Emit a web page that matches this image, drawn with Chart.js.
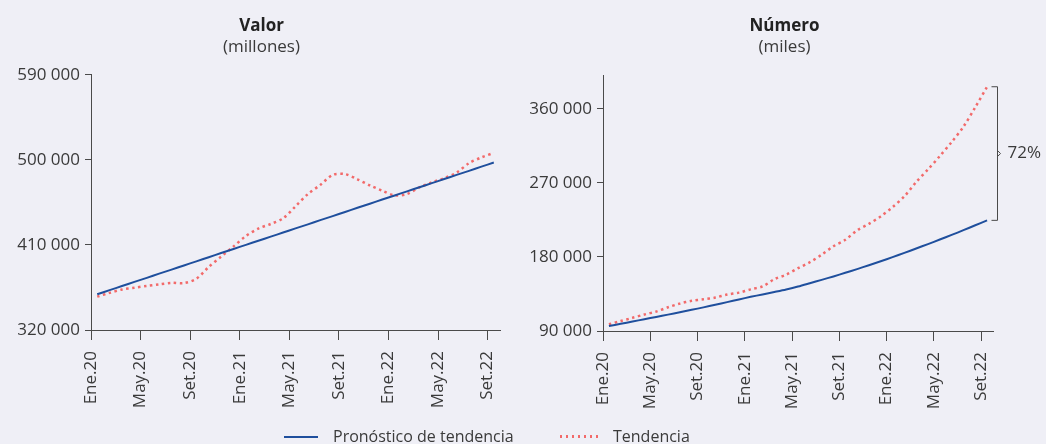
<!DOCTYPE html>
<html>
<head>
<meta charset="utf-8">
<script src="https://cdn.jsdelivr.net/npm/chart.js@4"></script>
<style>
  html, body { margin: 0; padding: 0; background: #efeff6; }
  body { width: 1046px; height: 444px; position: relative; overflow: hidden; font-family: "Open Sans", sans-serif; color: #3a3a3a; }
  canvas { position: absolute; top: 0; }
  #valor { left: 0; }
  #numero { left: 523px; }
  .item { position: absolute; top: 425px; font-size: 16px; line-height: 22px; white-space: nowrap; }
  .sw { display: inline-block; vertical-align: middle; margin-right: 15px; position: relative; top: -1px; }
  .solid { width: 34px; height: 2px; background: #1f4f9d; }
  .dots { width: 38px; height: 3px; background: repeating-linear-gradient(90deg, #f26a6a 0 2.5px, transparent 2.5px 6px); }
</style>
</head>
<body>
<canvas id="valor" width="523" height="444"></canvas>
<canvas id="numero" width="523" height="444"></canvas>
<span class="item" style="left:284px"><span class="sw solid"></span>Pronóstico de tendencia</span>
<span class="item" style="left:560px"><span class="sw dots"></span>Tendencia</span>

<script>
// months, Ene.20 .. Set.22
const months = [
  'Ene.20', 'Feb.20', 'Mar.20', 'Abr.20', 'May.20', 'Jun.20', 'Jul.20', 'Ago.20', 'Set.20', 'Oct.20', 'Nov.20', 'Dic.20',
  'Ene.21', 'Feb.21', 'Mar.21', 'Abr.21', 'May.21', 'Jun.21', 'Jul.21', 'Ago.21', 'Set.21', 'Oct.21', 'Nov.21', 'Dic.21',
  'Ene.22', 'Feb.22', 'Mar.22', 'Abr.22', 'May.22', 'Jun.22', 'Jul.22', 'Ago.22', 'Set.22'
];
const xTickLabels = ['Ene.20', 'May.20', 'Set.20', 'Ene.21', 'May.21', 'Set.21', 'Ene.22', 'May.22', 'Set.22'];

// Valor (millones)
const valorPronostico = [
  357800, 362200, 366500, 370900, 375200, 379600, 383900, 388300, 392600, 397000, 401400, 405700,
  410100, 414400, 418800, 423100, 427500, 431800, 436200, 440500, 444900, 449300, 453600, 458000,
  462300, 466700, 471000, 475400, 479700, 484100, 488400, 492800, 497200
];
const valorTendencia = [
  355300, 359300, 362800, 364700, 366600, 368300, 369900, 369600, 374200, 386700, 397700, 408400,
  419500, 427300, 432200, 438100, 450800, 463800, 473500, 484100, 484900, 479400, 473000, 467400,
  462400, 463800, 470900, 476200, 480700, 486500, 496500, 502600, 507500
];
const valorTicks = [320000, 410000, 500000, 590000];

// Número (miles)
const numeroPronostico = [
  96100, 98750, 101500, 104300, 107100, 109900, 112700, 115700, 118700, 121900, 125100, 128300,
  131500, 134400, 137400, 140500, 144000, 148000, 152100, 156300, 160700, 165200, 169900, 174700,
  179700, 184900, 190200, 195600, 201100, 206700, 212500, 218400, 224400
];
const numeroTendencia = [
  98200, 102100, 106000, 110000, 113600, 118800, 123300, 126700, 128500, 130600, 134300, 136600,
  140600, 144100, 153000, 158400, 166300, 173500, 182600, 192900, 200800, 212300, 220200, 229200,
  240400, 253500, 271000, 286200, 302500, 319500, 338200, 361800, 386700
];
const numeroTicks = [90000, 180000, 270000, 360000];

const BLUE = '#1f4f9d';
const RED = '#f26a6a';
const INK = '#3a3a3a';
const AXIS = '#4a4a4a';

Chart.defaults.font.family = '"Open Sans", sans-serif';
Chart.defaults.font.size = 17;
Chart.defaults.color = INK;

function fmt(v) {
  return String(v).replace(/\B(?=(\d{3})+(?!\d))/g, ' ');
}

// each month is drawn in the middle of its slot
function points(arr) {
  return arr.map((v, i) => ({ x: i + 0.5, y: v }));
}

// bracket with the gap between both series at the last month
const gapBracket = {
  id: 'gapBracket',
  afterDatasetsDraw(chart) {
    const low = chart.data.datasets[0].data.at(-1).y;
    const high = chart.data.datasets[1].data.at(-1).y;
    const y1 = chart.scales.y.getPixelForValue(high);
    const y2 = chart.scales.y.getPixelForValue(low);
    const x = chart.chartArea.right + 4.5;
    const m = (y1 + y2) / 2;
    const ctx = chart.ctx;
    ctx.save();
    ctx.strokeStyle = AXIS;
    ctx.lineWidth = 1;
    ctx.beginPath();
    ctx.moveTo(x - 6, y1);
    ctx.lineTo(x, y1);
    ctx.lineTo(x, y2);
    ctx.lineTo(x - 6, y2);
    ctx.moveTo(x, m - 3);
    ctx.lineTo(x + 3, m);
    ctx.lineTo(x, m + 3);
    ctx.stroke();
    ctx.fillStyle = INK;
    ctx.font = '17px "Open Sans"';
    ctx.textBaseline = 'middle';
    ctx.fillText(Math.round((high / low - 1) * 100) + '%', x + 10, m);
    ctx.restore();
  }
};

function makeChart(id, cfg) {
  return new Chart(document.getElementById(id), {
    type: 'line',
    data: {
      datasets: [
        { label: 'Pronóstico de tendencia', data: points(cfg.pronostico), borderColor: BLUE, borderWidth: 2, pointRadius: 0, tension: 0.3 },
        { label: 'Tendencia', data: points(cfg.tendencia), borderColor: RED, borderWidth: 2.5, borderDash: [2.5, 3.5], pointRadius: 0, tension: 0.3 }
      ]
    },
    plugins: cfg.plugins || [],
    options: {
      responsive: false,
      animation: false,
      layout: { padding: 0 },
      plugins: {
        legend: { display: false },
        tooltip: { enabled: false },
        title: { display: true, text: cfg.title, color: '#222', font: { size: 17, weight: 'bold' }, padding: { top: 16, bottom: 0 } },
        subtitle: { display: true, text: cfg.subtitle, font: { size: 17 }, padding: { top: 1, bottom: cfg.subGap } }
      },
      scales: {
        x: {
          type: 'linear',
          min: 0,
          max: months.length,
          afterBuildTicks: s => { s.ticks = xTickLabels.map(l => ({ value: months.indexOf(l) })); },
          afterFit: s => { s.height = cfg.xHeight; },
          ticks: { autoSkip: false, minRotation: 90, maxRotation: 90, padding: 11, callback: v => months[v] },
          grid: { drawOnChartArea: false, tickLength: 10, color: AXIS },
          border: { color: AXIS }
        },
        y: {
          min: cfg.yMin,
          max: cfg.yMax,
          afterBuildTicks: s => { s.ticks = cfg.yTicks.map(v => ({ value: v })); },
          afterFit: s => { s.width = cfg.yWidth; },
          ticks: { padding: 5, callback: fmt },
          grid: { drawOnChartArea: false, tickLength: 6, color: AXIS },
          border: { color: AXIS }
        },
        // empty right axis: keeps room on the right so the titles stay centred on the panel
        spacer: {
          type: 'linear',
          position: 'right',
          display: true,
          afterFit: s => { s.width = cfg.padRight; },
          ticks: { display: false },
          grid: { display: false },
          border: { display: false }
        }
      }
    }
  });
}

makeChart('valor', {
  title: 'Valor', subtitle: '(millones)',
  pronostico: valorPronostico, tendencia: valorTendencia,
  yMin: 320000, yMax: 590000, yTicks: valorTicks,
  padRight: 23, yWidth: 91, xHeight: 114, subGap: 17
});

makeChart('numero', {
  title: 'Número', subtitle: '(miles)',
  pronostico: numeroPronostico, tendencia: numeroTendencia,
  yMin: 90000, yMax: 400000, yTicks: numeroTicks,
  padRight: 53, yWidth: 80, xHeight: 113, subGap: 18,
  plugins: [gapBracket]
});
</script>
</body>
</html>
